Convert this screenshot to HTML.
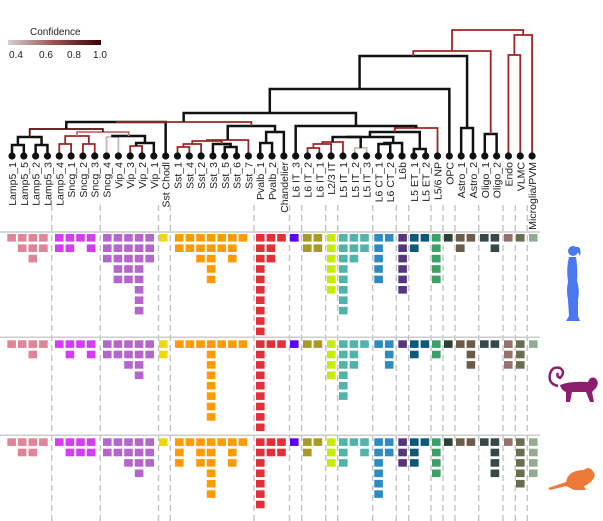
<!DOCTYPE html>
<html><head><meta charset="utf-8">
<style>
html,body{margin:0;padding:0;background:#fff;}
svg{display:block;font-family:"Liberation Sans",Arial,sans-serif;}
</style></head>
<body>
<svg id="chart" width="603" height="521" viewBox="0 0 603 521">
  <defs>
    <linearGradient id="confgrad" x1="0" x2="1" y1="0" y2="0">
      <stop offset="0" stop-color="#d4d0d0"/>
      <stop offset="0.5" stop-color="#9a5050"/>
      <stop offset="1" stop-color="#3a0000"/>
    </linearGradient>
  </defs>
  <g>
    <text x="30" y="35" font-size="10" fill="#222">Confidence</text>
    <rect x="8" y="40" width="93" height="5" fill="url(#confgrad)"/>
    <text x="16" y="58" font-size="10" text-anchor="middle" fill="#222">0.4</text>
    <text x="46" y="58" font-size="10" text-anchor="middle" fill="#222">0.6</text>
    <text x="74" y="58" font-size="10" text-anchor="middle" fill="#222">0.8</text>
    <text x="100" y="58" font-size="10" text-anchor="middle" fill="#222">1.0</text>
  </g>
  <g id="separators"></g>
  <g id="panels"></g>
  <g id="dendro"></g>
  <g id="labels"></g>
  <g id="squares"></g>

  <g fill="#4a78f0">
    <circle cx="573" cy="251" r="5"/>
    <path d="M576 247 Q582 246 580 256 Q578 252 576 250 Z"/>
    <path d="M569 257 Q566 268 568 282 Q566 290 568 300 L569 316 L566 321 L580 321 L578 316 L578 300 Q580 290 577 281 Q578 270 576 257 Z"/>
  </g>
  <g fill="#8b1f6e">
    <path d="M558 386 Q548 384 550 374 Q552 366 560 368 Q566 372 560 378 Q556 376 558 373" fill="none" stroke="#8b1f6e" stroke-width="2.5"/>
    <path d="M560 385 Q570 381 588 382 Q590 376 595 378 Q600 382 596 388 L592 392 L594 402 L590 402 L586 392 L572 392 L570 402 L566 402 L566 392 Q561 390 560 385 Z"/>
  </g>
  <g fill="#ee7a3a">
    <path d="M548 488 Q560 484 566 482 Q568 470 584 470 Q588 466 592 470 Q596 474 594 478 Q590 484 584 486 L586 490 L574 490 L566 486 Q558 488 550 490 Z"/>
  </g>
</svg>
<script>
// ---------- data ----------
const leafNames = ["Lamp5_1","Lamp5_5","Lamp5_2","Lamp5_3","Lamp5_4","Sncg_1","Sncg_2","Sncg_3","Sncg_4","Vip_4","Vip_3","Vip_2","Vip_1","Sst Chodl","Sst_1","Sst_4","Sst_2","Sst_3","Sst_5","Sst_6","Sst_7","Pvalb_1","Pvalb_2","Chandelier","L6 IT_3","L6 IT_2","L6 IT_1","L2/3 IT","L5 IT_1","L5 IT_2","L5 IT_3","L6 CT_1","L6 CT_2","L6b","L5 ET_1","L5 ET_2","L5/6 NP","OPC","Astro_1","Astro_2","Oligo_1","Oligo_2","Endo","VLMC","Microglia/PVM"];
const mergeA = [0,2,"n0",4,6,"n3",8,10,"n7","n6","n5","n2","n11",14,"n13",18,17,"n14","n17",21,"n19","n18","n12",
                25,"n23","n24",29,"n25",31,"n28","n27",34,"n30","n32",24,"n22","n35",38,"n36",40,"n38",42,"n41","n40"];
const mergeB = [1,3,"n1",5,7,"n4",9,11,12,"n8","n9","n10",13,15,16,19,"n15","n16",20,22,23,"n20","n21",
                26,27,28,30,"n26",32,33,"n29",35,"n31",36,"n33","n34",37,39,"n37",41,"n39",43,44,"n42"];
const mergeH = [145,145,137,144,144,136,137,146,143,136,132,129,122,147,144,147,144,141,140,143,132,126,122,
                148,144,142,148,137,144,143,137,149,132,128,126,113,89,128,56,134,51,55,35,30];
const mergeConf = [1,1,1,0.85,0.85,0.85,0.45,0.85,1,1,0.7,0.9,1,0.85,0.85,1,1,0.85,0.85,1,1,1,0.85,
                   0.85,0.85,0.85,0.45,1,1,1,1,1,1,0.85,1,1,1,1,1,1,0.8,0.85,0.85,0.8];

const groupColors = ["#e08498","#d63cf7","#b566cc","#f0d800","#ff9b00","#e0313b","#5a00ff","#a89a22","#c8ec00","#50b4aa","#2e8bbf","#56367f","#0e5878","#3da066","#2c3e38","#6b5b48","#384848","#96706a","#6a6e50","#92ac94"];
const humanCounts = [[1,2,3,2],[2,2,1,2],[3,5,5,8,3],[1],[2,2,3,5,2,3,1],[10,3,1],[1],[2,2],[6],[8,3,2],[5,1],[6],[2,1],[5],[1],[2,1],[1,2],[1],[1],[1]];
const monkeyCounts = [[1,1,2,1],[1,2,1,2],[2,2,3,4,2],[2],[1,1,1,8,1,1,1],[9,1,1],[1],[1,1],[4],[6,3,1],[1,3],[1],[2,1],[2],[1],[1,3],[1,1],[3],[3],[1]];
const mouseCounts = [[1,2,2,1],[1,2,2,2],[2,2,3,4,3],[1],[3,1,3,6,1,3,1],[7,2,2],[1],[2,1],[3],[3,1,2],[6,2],[3],[3,1],[4],[1],[1,1],[1,4],[1],[5],[4]];
const speciesNames = ["human","monkey","mouse"];

// ---------- layout ----------
const NS = "http://www.w3.org/2000/svg";
function mk(tag, attrs, parent){const e=document.createElementNS(NS,tag);for(const k in attrs)e.setAttribute(k,attrs[k]);parent.appendChild(e);return e;}
const leafX = i => 12 + i*11.82;
const LEAF_Y = 156;
function confColor(c){ if(c>=0.98) return "#111"; if(c>=0.88) return "#5a0c0c"; if(c>=0.8) return "#a02424"; if(c>=0.65) return "#c07070"; return "#cdb8b8"; }

const dendro = document.getElementById("dendro");
const nodeX = [], nodeY = [];
function pos(c){ return typeof c === "number" ? [leafX(c), LEAF_Y] : [nodeX[+c.slice(1)], nodeY[+c.slice(1)]]; }
for(let i=0;i<mergeA.length;i++){
  const a=pos(mergeA[i]), b=pos(mergeB[i]), h=mergeH[i];
  nodeX[i]=(a[0]+b[0])/2; nodeY[i]=h;
  const col=confColor(mergeConf[i]);
  const w = mergeConf[i]>=0.98?2.5:1.8;
  const p=mk("path",{d:`M${a[0]} ${a[1]} V${h} H${b[0]} V${b[1]}`,fill:"none",stroke:col,"stroke-width":w},dendro);
  
  
}
const labels = document.getElementById("labels");
leafNames.forEach((n,i)=>{
  const c=mk("circle",{cx:leafX(i),cy:LEAF_Y,r:3.6,fill:"#111"},dendro);
  
  
  const t=mk("text",{x:0,y:0,"font-size":"10.5",fill:"#222","text-anchor":"end",transform:`translate(${leafX(i)+4},162) rotate(-90)`},labels);
  t.textContent=n;
  
  
});

const sepX = [51.7,100.3,158.5,170.3,254,289.5,301.7,325.7,337.7,372.7,396.3,408.7,431,443,455,478.7,503,515.3,527.3];
const sepG = document.getElementById("separators");
sepX.forEach(x=>{
  const l=mk("line",{x1:x,x2:x,y1:205,y2:521,stroke:"#c4c4c4","stroke-width":1.4,"stroke-dasharray":"6 4"},sepG);
  
  
});
const panelTop = [232,337.3,435.3];
const panG = document.getElementById("panels");
panelTop.forEach(y=>{
  const l=mk("line",{x1:0,x2:540,y1:y,y2:y,stroke:"#cccccc","stroke-width":1.5},panG);
  
  
});

const groupStartX = [7.3,55,103,159,175,256,290,303,327,339,374.3,398.3,410,432,444,456,480,504,516,529];
const COL_PITCH = 10.6, ROW_PITCH = 10.4, SQ_W = 8.6, SQ_H = 7.6;
const sqG = document.getElementById("squares");
[humanCounts,monkeyCounts,mouseCounts].forEach((counts,s)=>{
  const y0 = panelTop[s] + 2 + (s===2?1:0) + (s===1?1:0);
  counts.forEach((cols,g)=>{
    cols.forEach((n,c)=>{
      const x = groupStartX[g] + c*COL_PITCH;
      for(let r=0;r<n;r++){
        const q=mk("rect",{x:x,y:y0+r*ROW_PITCH,width:SQ_W,height:SQ_H,fill:groupColors[g]},sqG);
        
        
      }
    });
  });
});
</script>
</body></html>
